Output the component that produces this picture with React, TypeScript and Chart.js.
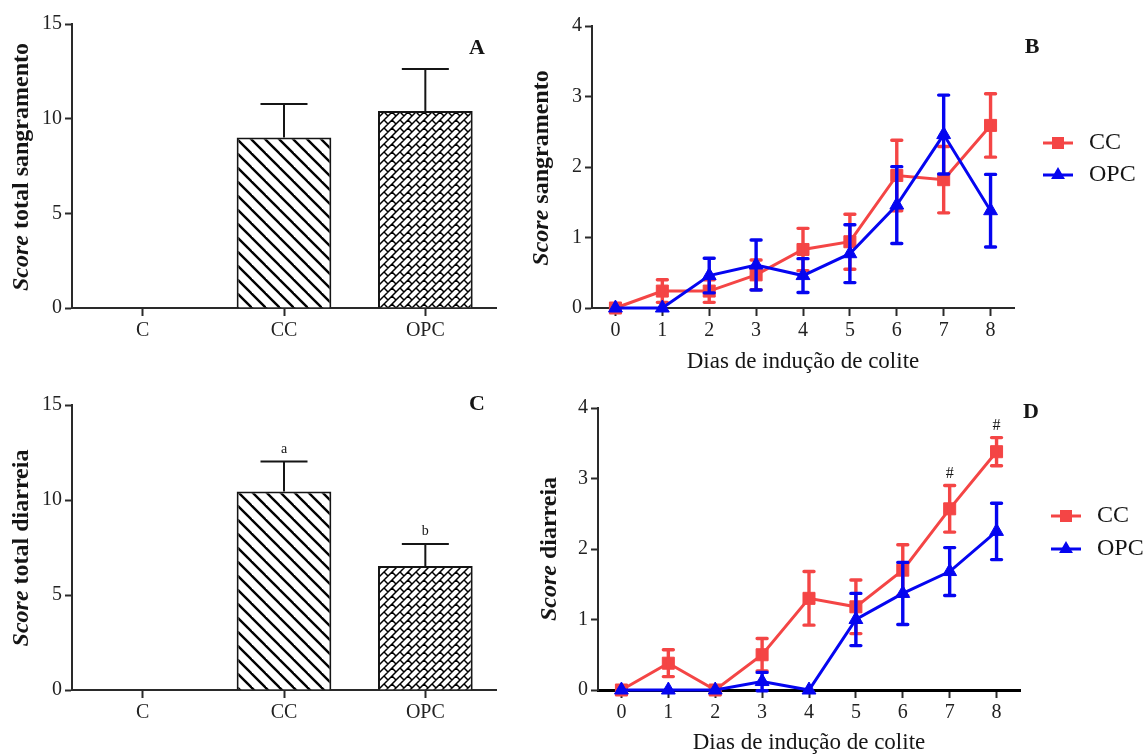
import { useEffect, useRef } from 'react';
import { Chart, registerables } from 'chart.js';

Chart.register(...registerables);

const FONT = "'Liberation Serif', 'Times New Roman', serif";
const RED = '#F44545';
const BLUE = '#0505F0';
const AXIS = '#2a2a2a';
const INK = '#151515';

// ---------- Data: total scores (bar panels) ----------
const groups = ['C', 'CC', 'OPC'];
const bleedingTotalMean = [0, 9.0, 10.4];
const bleedingTotalSem = [0, 1.77, 2.22];
const diarrheaTotalMean = [0, 10.45, 6.53];
const diarrheaTotalSem = [0, 1.57, 1.15];
const diarrheaTotalLetters = ['', 'a', 'b'];
const barTickValues = [0, 5, 10, 15];

// ---------- Data: daily scores (line panels) ----------
const days = ['0', '1', '2', '3', '4', '5', '6', '7', '8'];
const seriesNames = ['CC', 'OPC'];
const bleedingCCMean = [0, 0.24, 0.24, 0.47, 0.83, 0.94, 1.88, 1.82, 2.59];
const bleedingCCSem = [0, 0.16, 0.16, 0.21, 0.3, 0.39, 0.5, 0.47, 0.45];
const bleedingOPCMean = [0, 0, 0.46, 0.61, 0.46, 0.77, 1.46, 2.46, 1.38];
const bleedingOPCSem = [0, 0, 0.245, 0.355, 0.24, 0.41, 0.545, 0.56, 0.515];
const diarrheaCCMean = [0, 0.38, 0, 0.5, 1.3, 1.18, 1.7, 2.57, 3.38];
const diarrheaCCSem = [0, 0.19, 0, 0.23, 0.38, 0.38, 0.36, 0.33, 0.2];
const diarrheaOPCMean = [0, 0, 0, 0.12, 0, 1.0, 1.37, 1.68, 2.25];
const diarrheaOPCSem = [0, 0, 0, 0.13, 0, 0.37, 0.44, 0.34, 0.4];
const diarrheaCCMarks = ['', '', '', '', '', '', '', '#', '#'];
const lineTickValues = [0, 1, 2, 3, 4];

Chart.defaults.font.family = FONT;

// ---------- Fill patterns ----------
function makeDiagonalPattern(): CanvasPattern | string {
  const s = 14;
  const c = document.createElement('canvas');
  c.width = s;
  c.height = s;
  const g = c.getContext('2d');
  if (!g) return '#fff';
  g.fillStyle = '#fff';
  g.fillRect(0, 0, s, s);
  g.strokeStyle = '#000';
  g.lineWidth = 2.4;
  for (const k of [-1, 0, 1]) {
    g.beginPath();
    g.moveTo(k * s - 4, -4);
    g.lineTo(k * s + s + 4, s + 4);
    g.stroke();
  }
  return g.createPattern(c, 'repeat') || '#fff';
}

function makeBrickPattern(): CanvasPattern | string {
  const s = 16;
  const c = document.createElement('canvas');
  c.width = s;
  c.height = s;
  const g = c.getContext('2d');
  if (!g) return '#fff';
  g.fillStyle = '#fff';
  g.fillRect(0, 0, s, s);
  g.strokeStyle = '#000';
  g.lineWidth = 1.5;
  g.beginPath();
  for (let cc = -16; cc <= 48; cc += 8) {
    g.moveTo(cc + 8, -8);
    g.lineTo(cc - 24, 24);
  }
  for (let k = -4; k <= 8; k++) {
    for (let m = -4; m <= 4; m++) {
      const d = 8 * k + 16 * m;
      const s0 = 8 * k;
      const s1 = 8 * k + 8;
      g.moveTo((s0 + d) / 2, (s0 - d) / 2);
      g.lineTo((s1 + d) / 2, (s1 - d) / 2);
    }
  }
  g.stroke();
  return g.createPattern(c, 'repeat') || '#fff';
}

// ---------- Drawing helpers ----------
function drawYTitle(ctx: CanvasRenderingContext2D, cx: number, cy: number, rest: string) {
  ctx.save();
  ctx.translate(cx, cy);
  ctx.rotate(-Math.PI / 2);
  const f1 = `italic bold 24px ${FONT}`;
  const f2 = `bold 24px ${FONT}`;
  ctx.font = f1;
  const w1 = ctx.measureText('Score').width;
  ctx.font = f2;
  const w2 = ctx.measureText(rest).width;
  const x = -(w1 + w2) / 2;
  ctx.fillStyle = INK;
  ctx.textBaseline = 'middle';
  ctx.textAlign = 'left';
  ctx.font = f1;
  ctx.fillText('Score', x, 0);
  ctx.font = f2;
  ctx.fillText(rest, x + w1, 0);
  ctx.restore();
}

function drawText(ctx: CanvasRenderingContext2D, text: string, x: number, y: number, font: string, align: CanvasTextAlign = 'center') {
  ctx.save();
  ctx.font = font;
  ctx.fillStyle = INK;
  ctx.textAlign = align;
  ctx.textBaseline = 'middle';
  ctx.fillText(text, x, y);
  ctx.restore();
}

function drawMarker(ctx: CanvasRenderingContext2D, style: string, x: number, y: number, r: number, color: string) {
  ctx.save();
  ctx.fillStyle = color;
  ctx.beginPath();
  if (style === 'rect') {
    const h = r * Math.SQRT1_2;
    ctx.rect(x - h, y - h, 2 * h, 2 * h);
  } else {
    ctx.moveTo(x, y - r);
    ctx.lineTo(x + Math.sin((2 * Math.PI) / 3) * r, y + 0.5 * r);
    ctx.lineTo(x - Math.sin((2 * Math.PI) / 3) * r, y + 0.5 * r);
    ctx.closePath();
  }
  ctx.fill();
  ctx.restore();
}

type Area = { w: number; h: number; l: number; t: number; r: number; b: number };

function yScaleCfg(max: number, ticks: number[], area: Area) {
  return {
    type: 'linear',
    min: 0,
    max,
    afterFit: (s: any) => {
      s.width = area.l;
    },
    afterBuildTicks: (s: any) => {
      s.ticks = ticks.map((v) => ({ value: v }));
    },
    ticks: { font: { family: FONT, size: 20 }, color: '#222', padding: 3 },
    grid: { display: true, drawOnChartArea: false, drawTicks: true, tickLength: 7, tickWidth: 2, tickColor: AXIS },
    border: { display: true, color: AXIS, width: 2 },
  };
}

function xScaleCfg(area: Area, borderColor = AXIS, borderWidth = 2) {
  return {
    type: 'category',
    offset: true,
    afterFit: (s: any) => {
      s.height = area.h - area.b;
    },
    ticks: { font: { family: FONT, size: 20 }, color: '#222', padding: 3, autoSkip: false, maxRotation: 0 },
    grid: { display: true, drawOnChartArea: false, offset: false, drawTicks: true, tickLength: 8, tickWidth: 2, tickColor: AXIS },
    border: { display: true, color: borderColor, width: borderWidth },
  };
}

// ---------- Bar panel ----------
function buildBar(
  mean: number[],
  sem: number[],
  letters: string[] | null,
  titleRest: string,
  panelLetter: string,
  area: Area,
  yTitle: [number, number],
  letterPos: [number, number]
): any {
  const fills = ['#fff', makeDiagonalPattern(), makeBrickPattern()];
  const decor = {
    id: 'barDecor',
    afterDatasetsDraw(chart: any) {
      const ctx = chart.ctx as CanvasRenderingContext2D;
      const meta = chart.getDatasetMeta(0);
      const y = chart.scales.y;
      ctx.save();
      meta.data.forEach((el: any, i: number) => {
        if (!sem[i]) return;
        const top = y.getPixelForValue(mean[i] + sem[i]);
        ctx.strokeStyle = INK;
        ctx.lineWidth = 2;
        ctx.beginPath();
        ctx.moveTo(el.x, el.y);
        ctx.lineTo(el.x, top);
        ctx.moveTo(el.x - 23.5, top);
        ctx.lineTo(el.x + 23.5, top);
        ctx.stroke();
        if (letters && letters[i]) {
          ctx.font = `14px ${FONT}`;
          ctx.fillStyle = INK;
          ctx.textAlign = 'center';
          ctx.textBaseline = 'alphabetic';
          ctx.fillText(letters[i], el.x, top - 9);
        }
      });
      ctx.restore();
    },
    afterDraw(chart: any) {
      const ctx = chart.ctx as CanvasRenderingContext2D;
      drawYTitle(ctx, yTitle[0], yTitle[1], titleRest);
      drawText(ctx, panelLetter, letterPos[0], letterPos[1], `bold 22px ${FONT}`);
    },
  };
  return {
    type: 'bar',
    data: {
      labels: groups,
      datasets: [
        {
          data: mean,
          backgroundColor: fills,
          borderColor: INK,
          borderWidth: [0, 2, 2],
          barPercentage: 0.67,
          categoryPercentage: 1,
        },
      ],
    },
    options: {
      responsive: false,
      animation: false,
      devicePixelRatio: 1,
      layout: { padding: { left: 0, top: area.t, right: area.w - area.r, bottom: 0 } },
      plugins: { legend: { display: false }, tooltip: { enabled: false }, title: { display: false } },
      scales: { x: xScaleCfg(area), y: yScaleCfg(15, barTickValues, area) },
    },
    plugins: [decor],
  };
}

// ---------- Line panel ----------
function buildLine(
  ccMean: number[],
  ccSem: number[],
  opcMean: number[],
  opcSem: number[],
  marks: string[] | null,
  titleRest: string,
  panelLetter: string,
  area: Area,
  yTitle: [number, number],
  xTitleY: number,
  letterPos: [number, number],
  legendRows: [number, number],
  legendLineX: [number, number],
  legendTextX: number,
  xBorderColor: string,
  xBorderWidth: number
): any {
  const sems = [ccSem, opcSem];
  const styles = ['rect', 'triangle'];
  const radii = [8.5, 8];
  const colors = [RED, BLUE];
  const decor = {
    id: 'lineDecor',
    afterDatasetDraw(chart: any, args: any) {
      const idx = args.index;
      const ds = chart.data.datasets[idx];
      const meta = args.meta;
      const y = chart.scales.y;
      const ctx = chart.ctx as CanvasRenderingContext2D;
      ctx.save();
      ctx.strokeStyle = ds.borderColor;
      ctx.lineWidth = 3.4;
      ctx.lineCap = 'round';
      meta.data.forEach((el: any, i: number) => {
        const e = sems[idx][i];
        if (!e) return;
        const m = ds.data[i];
        const y0 = y.getPixelForValue(m - e);
        const y1 = y.getPixelForValue(m + e);
        ctx.beginPath();
        ctx.moveTo(el.x, y0);
        ctx.lineTo(el.x, y1);
        ctx.moveTo(el.x - 5, y0);
        ctx.lineTo(el.x + 5, y0);
        ctx.moveTo(el.x - 5, y1);
        ctx.lineTo(el.x + 5, y1);
        ctx.stroke();
        if (idx === 0 && marks && marks[i]) {
          ctx.font = `16px ${FONT}`;
          ctx.fillStyle = INK;
          ctx.textAlign = 'center';
          ctx.textBaseline = 'alphabetic';
          ctx.fillText(marks[i], el.x, y1 - 8);
        }
      });
      ctx.restore();
    },
    afterDraw(chart: any) {
      const ctx = chart.ctx as CanvasRenderingContext2D;
      const ca = chart.chartArea;
      drawYTitle(ctx, yTitle[0], yTitle[1], titleRest);
      drawText(ctx, 'Dias de indução de colite', (ca.left + ca.right) / 2, xTitleY, `23px ${FONT}`);
      drawText(ctx, panelLetter, letterPos[0], letterPos[1], `bold 22px ${FONT}`);
      seriesNames.forEach((name, i) => {
        const ly = legendRows[i];
        ctx.save();
        ctx.strokeStyle = colors[i];
        ctx.lineWidth = 3;
        ctx.beginPath();
        ctx.moveTo(legendLineX[0], ly);
        ctx.lineTo(legendLineX[1], ly);
        ctx.stroke();
        ctx.restore();
        drawMarker(ctx, styles[i], (legendLineX[0] + legendLineX[1]) / 2, ly, radii[i], colors[i]);
        drawText(ctx, name, legendTextX, ly, `24px ${FONT}`, 'left');
      });
    },
  };
  const mk = (i: number, data: number[], order: number) => ({
    label: seriesNames[i],
    data,
    order,
    borderColor: colors[i],
    backgroundColor: colors[i],
    borderWidth: 3,
    tension: 0,
    pointStyle: styles[i],
    pointRadius: radii[i],
    pointBorderWidth: 1,
    pointBorderColor: colors[i],
    pointBackgroundColor: colors[i],
    clip: false,
  });
  return {
    type: 'line',
    data: {
      labels: days,
      datasets: [mk(0, ccMean, 1), mk(1, opcMean, 0)],
    },
    options: {
      responsive: false,
      animation: false,
      devicePixelRatio: 1,
      layout: { padding: { left: 0, top: area.t, right: area.w - area.r, bottom: 0 } },
      plugins: { legend: { display: false }, tooltip: { enabled: false }, title: { display: false } },
      scales: { x: xScaleCfg(area, xBorderColor, xBorderWidth), y: yScaleCfg(4, lineTickValues, area) },
    },
    plugins: [decor],
  };
}

function Panel({ left, top, width, height, build }: { left: number; top: number; width: number; height: number; build: () => any }) {
  const ref = useRef<HTMLCanvasElement>(null);
  useEffect(() => {
    if (!ref.current) return;
    const chart = new Chart(ref.current, build());
    return () => chart.destroy();
  }, []);
  return (
    <canvas
      ref={ref}
      width={width}
      height={height}
      style={{ position: 'absolute', left, top, width, height, display: 'block' }}
    />
  );
}

const areaA: Area = { w: 525, h: 377, l: 72, t: 24, r: 496, b: 308 };
const areaC: Area = { w: 525, h: 374, l: 72, t: 25, r: 496, b: 310 };
const areaB: Area = { w: 622, h: 380, l: 67, t: 26, r: 489, b: 308 };
const areaD: Area = { w: 622, h: 374, l: 73, t: 28, r: 495, b: 310 };

export default function App() {
  return (
    <div style={{ position: 'absolute', left: 0, top: 0, width: 1147, height: 754, background: '#fff', overflow: 'hidden' }}>
      <Panel
        left={0}
        top={0}
        width={areaA.w}
        height={areaA.h}
        build={() => buildBar(bleedingTotalMean, bleedingTotalSem, null, ' total sangramento', 'A', areaA, [22, 167], [477, 48])}
      />
      <Panel
        left={525}
        top={0}
        width={areaB.w}
        height={areaB.h}
        build={() =>
          buildLine(
            bleedingCCMean,
            bleedingCCSem,
            bleedingOPCMean,
            bleedingOPCSem,
            null,
            ' sangramento',
            'B',
            areaB,
            [17, 168],
            362,
            [507, 47],
            [143, 175],
            [518, 548],
            564,
            AXIS,
            2
          )
        }
      />
      <Panel
        left={0}
        top={380}
        width={areaC.w}
        height={areaC.h}
        build={() => buildBar(diarrheaTotalMean, diarrheaTotalSem, diarrheaTotalLetters, ' total diarreia', 'C', areaC, [22, 168], [477, 24])}
      />
      <Panel
        left={525}
        top={380}
        width={areaD.w}
        height={areaD.h}
        build={() =>
          buildLine(
            diarrheaCCMean,
            diarrheaCCSem,
            diarrheaOPCMean,
            diarrheaOPCSem,
            diarrheaCCMarks,
            ' diarreia',
            'D',
            areaD,
            [25, 169],
            363,
            [506, 32],
            [136, 169],
            [526, 556],
            572,
            '#000',
            3
          )
        }
      />
    </div>
  );
}
